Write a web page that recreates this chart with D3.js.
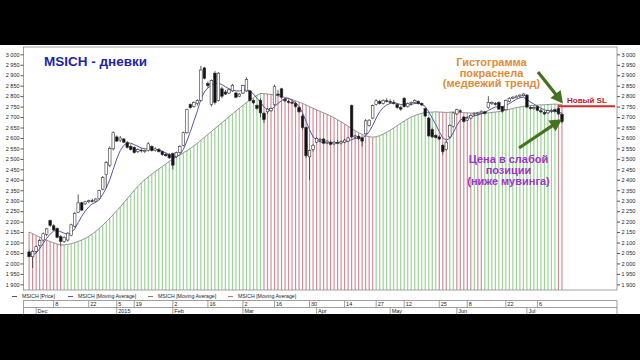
<!DOCTYPE html>
<html><head><meta charset="utf-8">
<script src="https://cdn.jsdelivr.net/npm/d3@7"></script>
<style>html,body{margin:0;padding:0;background:#000;}svg{display:block;}</style>
</head><body><div id="chart"></div>
<script>
// ---------- data (daily bars, late Nov 2014 .. mid Jul 2015) ----------
var opens = [2055,2032,2058,2085,2112,2138,2205,2180,2168,2128,
 2105,2112,2135,2178,2245,2290,2285,2295,2300,2298,
 2310,2355,2425,2470,2548,2605,2590,2595,2578,2560,
 2555,2535,2542,2535,2540,2560,2540,2545,2535,2522,
 2520,2525,2510,2530,2565,2625,2760,2750,2765,2780,
 2935,2860,2760,2910,2780,2835,2820,2815,2825,2815,
 2800,2815,2825,2825,2780,2755,2780,2718,2725,2730,
 2760,2810,2835,2785,2775,2770,2765,2745,2705,2650,
 2510,2545,2580,2590,2595,2578,2580,2572,2578,2576,
 2580,2585,2755,2605,2608,2600,2620,2660,2695,2760,
 2775,2765,2778,2775,2770,2760,2745,2790,2750,2765,
 2770,2775,2765,2740,2695,2640,2612,2605,2565,2545,
 2605,2655,2715,2730,2700,2685,2695,2712,2715,2720,
 2725,2745,2765,2765,2770,2750,2735,2775,2790,2792,
 2800,2802,2805,2745,2742,2750,2730,2722,2720,2728,
 2735,2740,2712];
var highs = [2062,2065,2085,2115,2148,2170,2210,2188,2172,2135,
 2130,2148,2190,2245,2330,2295,2300,2305,2310,2312,
 2352,2418,2490,2560,2632,2612,2610,2600,2585,2570,
 2560,2550,2550,2545,2580,2565,2555,2552,2540,2530,
 2528,2530,2535,2565,2630,2740,2765,2775,2785,2945,
 2940,2870,2880,2920,2915,2845,2830,2835,2858,2820,
 2815,2855,2890,2830,2785,2760,2790,2725,2742,2745,
 2855,2830,2840,2790,2782,2780,2772,2750,2715,2655,
 2545,2570,2605,2600,2600,2590,2588,2585,2590,2588,
 2595,2605,2760,2615,2615,2605,2690,2690,2760,2785,
 2782,2785,2790,2785,2782,2765,2755,2795,2770,2775,
 2785,2780,2770,2745,2700,2650,2618,2612,2570,2585,
 2665,2725,2740,2738,2705,2700,2712,2722,2725,2732,
 2730,2800,2775,2772,2775,2752,2785,2795,2800,2805,
 2808,2815,2810,2752,2750,2755,2738,2730,2735,2738,
 2740,2748,2720];
var lows = [2030,1978,2050,2082,2105,2130,2175,2155,2120,2085,
 2098,2105,2130,2172,2240,2250,2280,2288,2292,2294,
 2305,2350,2360,2460,2540,2582,2580,2575,2550,2540,
 2525,2528,2530,2528,2535,2535,2535,2530,2515,2510,
 2500,2450,2505,2525,2560,2620,2740,2745,2755,2775,
 2880,2840,2750,2760,2775,2790,2805,2810,2820,2790,
 2795,2810,2820,2775,2762,2735,2700,2672,2715,2725,
 2755,2800,2790,2772,2765,2762,2745,2720,2640,2505,
 2400,2535,2575,2580,2570,2570,2565,2565,2570,2568,
 2575,2580,2600,2595,2590,2560,2615,2655,2690,2755,
 2760,2760,2770,2765,2760,2740,2730,2745,2745,2755,
 2765,2760,2752,2700,2605,2600,2598,2590,2520,2540,
 2600,2650,2710,2720,2675,2680,2690,2705,2708,2715,
 2712,2740,2758,2755,2735,2720,2732,2770,2785,2790,
 2792,2798,2742,2735,2735,2728,2718,2710,2715,2720,
 2722,2710,2670];
var closes = [2032,2058,2080,2110,2142,2165,2182,2160,2125,2105,
 2125,2145,2185,2240,2290,2255,2295,2300,2298,2308,
 2348,2412,2482,2550,2625,2585,2600,2580,2555,2545,
 2530,2545,2538,2540,2572,2540,2548,2535,2520,2515,
 2505,2470,2530,2560,2625,2735,2745,2770,2780,2925,
 2885,2850,2875,2770,2910,2800,2810,2830,2852,2795,
 2810,2850,2880,2780,2768,2742,2720,2688,2738,2740,
 2845,2805,2795,2778,2770,2768,2750,2725,2650,2515,
 2540,2565,2598,2592,2575,2585,2570,2580,2575,2582,
 2590,2600,2605,2610,2598,2585,2682,2685,2755,2778,
 2765,2780,2775,2770,2765,2745,2738,2750,2765,2770,
 2780,2765,2758,2705,2610,2605,2602,2595,2535,2580,
 2660,2720,2735,2728,2678,2695,2708,2718,2720,2728,
 2718,2770,2770,2760,2738,2728,2780,2790,2795,2800,
 2805,2810,2748,2742,2745,2732,2725,2715,2730,2732,
 2728,2715,2678];
var fastMA = [2045,2040,2050,2070,2095,2120,2140,2155,2158,2152,
 2145,2138,2145,2165,2195,2225,2250,2270,2285,2292,
 2305,2330,2360,2400,2450,2500,2540,2565,2575,2575,
 2568,2560,2552,2548,2548,2546,2545,2542,2536,2528,
 2520,2508,2510,2520,2545,2585,2630,2680,2730,2785,
 2820,2840,2850,2860,2862,2855,2845,2835,2830,2825,
 2825,2828,2832,2825,2810,2790,2772,2748,2735,2735,
 2750,2765,2778,2790,2790,2780,2768,2752,2720,2680,
 2640,2605,2590,2582,2578,2576,2576,2578,2578,2580,
 2582,2586,2592,2598,2600,2600,2610,2630,2660,2695,
 2725,2745,2758,2765,2768,2765,2760,2758,2758,2760,
 2765,2766,2762,2750,2725,2695,2665,2630,2600,2590,
 2598,2625,2660,2685,2695,2700,2702,2705,2710,2715,
 2722,2732,2740,2748,2750,2750,2755,2765,2775,2785,
 2792,2795,2785,2772,2762,2752,2742,2735,2730,2728,
 2728,2725,2718];
var slowMA = [2150,2142,2134,2126,2118,2111,2104,2098,2093,2088,
 2089,2091,2094,2099,2105,2112,2120,2129,2140,2153,
 2167,2183,2199,2216,2234,2252,2270,2290,2310,2330,
 2350,2368,2385,2400,2414,2427,2440,2452,2464,2476,
 2488,2499,2509,2519,2529,2539,2550,2562,2575,2589,
 2603,2617,2631,2645,2659,2673,2687,2701,2715,2729,
 2743,2756,2769,2781,2793,2804,2813,2812,2810,2808,
 2805,2802,2798,2794,2789,2784,2778,2772,2765,2758,
 2750,2742,2734,2727,2720,2713,2705,2697,2687,2677,
 2667,2656,2645,2635,2625,2617,2610,2606,2604,2606,
 2611,2618,2627,2637,2648,2659,2670,2681,2691,2700,
 2707,2713,2718,2721,2723,2724,2725,2724,2723,2722,
 2723,2724,2723,2722,2721,2720,2719,2720,2719,2718,
 2719,2720,2722,2724,2726,2729,2733,2737,2741,2745,
 2748,2751,2753,2755,2756,2757,2758,2759,2760,2761,
 2762,2761,2760];
var priceTicks = [1900,1950,2000,2050,2100,2150,2200,2250,2300,2350,2400,2450,2500,2550,2600,2650,2700,2750,2800,2850,2900,2950,3000];
var dayTickIdx = [7,17,25,30,41,51,61,70,80,90,99,107,117,125,136,145];
var dayTickLabels = ['8','22','5','19','2','16','2','16','30','14','27','12','25','8','22','6'];
var monthIdx = [2,25,41,61,82,103,122,142];
var monthLabels = ['Dec','2015','Feb','Mar','Apr','May','Jun','Jul'];
var legendLabels = ['MSICH [Price]','MSICH [Moving Average]','MSICH [Moving Average]','MSICH [Moving Average]'];
var stopLevel = 2752;

// ---------- setup ----------
var W = 640, H = 360, L = 23.5, R = 617, T = 47, B = 290;
var FONT = 'Liberation Sans, Arial, sans-serif';
var svg = d3.select('#chart').append('svg').attr('width', W).attr('height', H);
svg.append('rect').attr('width', W).attr('height', H).attr('fill', '#fff');
var x = d3.scaleLinear().domain([-1.6, 167.7]).range([L, R]);
var y = d3.scaleLinear().domain([1873, 3035]).range([B, T]);
var idx = d3.range(closes.length);
var fmt = d3.formatLocale({ decimal: ',', thousands: '\u00a0', grouping: [3], currency: ['', ''] }).format(',d');
function rising(i) { return i === 0 ? slowMA[1] > slowMA[0] : slowMA[i] > slowMA[i - 1]; }

// ---------- histogram + slow MA ----------
svg.append('g').selectAll('line').data(idx).join('line')
  .attr('x1', function (i) { return x(i); }).attr('x2', function (i) { return x(i); })
  .attr('y1', B).attr('y2', function (i) { return y(slowMA[i]); })
  .attr('stroke', function (i) { return rising(i) ? '#9ad494' : '#d48d97'; }).attr('stroke-width', 1.2);
svg.append('path').datum(idx).attr('fill', 'none').attr('stroke', '#7a7a7a').attr('stroke-width', 0.8)
  .attr('d', d3.line().x(function (i) { return x(i); }).y(function (i) { return y(slowMA[i]); }));

// ---------- fast MA ----------
svg.append('path').datum(idx).attr('fill', 'none').attr('stroke', '#5656ac').attr('stroke-width', 1)
  .attr('d', d3.line().x(function (i) { return x(i); }).y(function (i) { return y(fastMA[i]); }));

// ---------- candles ----------
var gc = svg.append('g');
gc.selectAll('line').data(idx).join('line')
  .attr('x1', function (i) { return x(i); }).attr('x2', function (i) { return x(i); })
  .attr('y1', function (i) { return y(highs[i]); }).attr('y2', function (i) { return y(lows[i]); })
  .attr('stroke', '#333').attr('stroke-width', 0.8);
gc.selectAll('rect').data(idx).join('rect')
  .attr('x', function (i) { return x(i) - 1.3; }).attr('width', 2.6)
  .attr('y', function (i) { return y(Math.max(opens[i], closes[i])); })
  .attr('height', function (i) { return Math.max(0.8, Math.abs(y(opens[i]) - y(closes[i]))); })
  .attr('fill', function (i) { return closes[i] >= opens[i] ? '#fff' : '#111'; })
  .attr('stroke', '#333').attr('stroke-width', 0.6);

// ---------- frame + axes ----------
svg.append('rect').attr('x', L).attr('y', T).attr('width', R - L).attr('height', B - T)
  .attr('fill', 'none').attr('stroke', '#8a8a8a').attr('stroke-width', 0.8);
function styleAxis(g) {
  g.select('.domain').remove();
  g.selectAll('line').attr('stroke', '#555');
  g.selectAll('text').attr('fill', '#222').attr('font-size', 5.5).attr('font-family', FONT);
}
svg.append('g').attr('transform', 'translate(' + L + ',0)')
  .call(d3.axisLeft(y).tickValues(priceTicks).tickSize(3).tickPadding(1).tickFormat(fmt)).call(styleAxis);
svg.append('g').attr('transform', 'translate(' + R + ',0)')
  .call(d3.axisRight(y).tickValues(priceTicks).tickSize(3).tickPadding(1.5).tickFormat(fmt)).call(styleAxis);

// ---------- legend ----------
var legX = [12, 68, 148, 228], legCol = ['#555', '#5656ac', '#7a7a7a', '#c4707c'];
legendLabels.forEach(function (t, k) {
  svg.append('line').attr('x1', legX[k]).attr('x2', legX[k] + 5).attr('y1', 296.5).attr('y2', 296.5).attr('stroke', legCol[k]).attr('stroke-width', 1);
  svg.append('text').attr('x', legX[k] + 10).attr('y', 298.3).attr('font-size', 5.2).attr('font-family', FONT).attr('fill', '#222').text(t);
});

// ---------- date rows ----------
var gd = svg.append('g').attr('stroke', '#777').attr('stroke-width', 0.7);
[300.5, 307.5].forEach(function (yy) { gd.append('line').attr('x1', L).attr('x2', R).attr('y1', yy).attr('y2', yy); });
[L, R].forEach(function (xx) { gd.append('line').attr('x1', xx).attr('x2', xx).attr('y1', 300.5).attr('y2', 315); });
dayTickIdx.forEach(function (d, k) {
  gd.append('line').attr('x1', x(d)).attr('x2', x(d)).attr('y1', 300.5).attr('y2', 307.5);
  svg.append('text').attr('x', x(d) + 1.5).attr('y', 306.2).attr('font-size', 5.5).attr('font-family', FONT).attr('fill', '#222').text(dayTickLabels[k]);
});
monthIdx.forEach(function (d, k) {
  gd.append('line').attr('x1', x(d)).attr('x2', x(d)).attr('y1', 307.5).attr('y2', 315);
  svg.append('text').attr('x', x(d) + 1.5).attr('y', 313.3).attr('font-size', 5.5).attr('font-family', FONT).attr('fill', '#222').text(monthLabels[k]);
});

// ---------- annotations ----------
svg.append('text').attr('x', 44).attr('y', 66).attr('font-size', 13.5).attr('font-weight', 700).attr('font-family', FONT).attr('fill', '#2222aa').text('MSICH - дневки');
function lines(arr, cx, y0, dy, col) {
  arr.forEach(function (t, k) {
    svg.append('text').attr('x', cx).attr('y', y0 + k * dy).attr('text-anchor', 'middle').attr('font-size', 11).attr('font-weight', 700).attr('font-family', FONT).attr('fill', col).text(t);
  });
}
lines(['Гистограмма', 'покраснела', '(медвежий тренд)'], 491.5, 66, 10.6, '#e38a36');
lines(['Цена в слабой', 'позиции', '(ниже мувинга)'], 508.5, 163, 11.2, '#9a34cc');
svg.append('line').attr('x1', x(151) - 1).attr('x2', 615).attr('y1', y(stopLevel)).attr('y2', y(stopLevel)).attr('stroke', '#d42a2a').attr('stroke-width', 2);
svg.append('text').attr('x', 567).attr('y', 103).attr('font-size', 8).attr('font-weight', 700).attr('font-family', FONT).attr('fill', '#c0202a').text('Новый SL');
function arrow(x1, y1, x2, y2) {
  var dx = x2 - x1, dy = y2 - y1, len = Math.hypot(dx, dy), ux = dx / len, uy = dy / len, px = -uy, py = ux;
  var hl = 12, hw = 6.5, sw = 1.6, bx = x2 - ux * hl, by = y2 - uy * hl;
  var pts = [[x1 + px * sw, y1 + py * sw], [bx + px * sw, by + py * sw], [bx + px * hw, by + py * hw], [x2, y2],
    [bx - px * hw, by - py * hw], [bx - px * sw, by - py * sw], [x1 - px * sw, y1 - py * sw]];
  svg.append('polygon').attr('points', pts.map(function (p) { return p.join(','); }).join(' ')).attr('fill', '#43731f');
}
arrow(538, 72, x(152) + 1, y(2765));
arrow(519, 148, x(152), y(2690));

// ---------- letterbox ----------
svg.append('rect').attr('x', 0).attr('y', 0).attr('width', W).attr('height', 45).attr('fill', '#000');
svg.append('rect').attr('x', 0).attr('y', 314).attr('width', W).attr('height', H - 314).attr('fill', '#000');
</script>
</body></html>
